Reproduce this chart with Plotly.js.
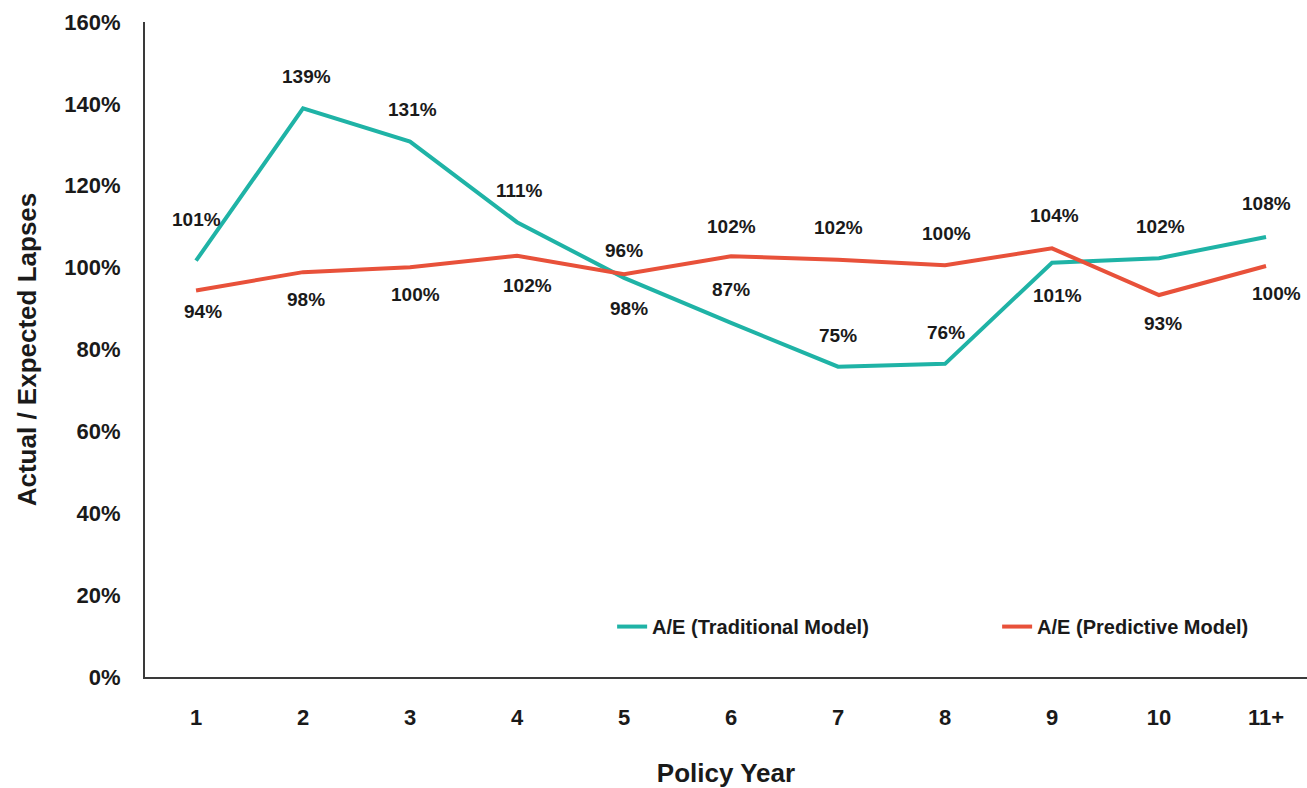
<!DOCTYPE html>
<html>
<head>
<meta charset="utf-8">
<script src="https://cdn.plot.ly/plotly-3.0.1.min.js"></script>
<style>
  html, body { margin: 0; padding: 0; background: #ffffff; }
  #chart { width: 1307px; height: 788px; }
</style>
</head>
<body>
<div id="chart"></div>
<script>
// ---- data ----
const policyYears = ["1", "2", "3", "4", "5", "6", "7", "8", "9", "10", "11+"];
const traditionalAE = [101.7, 138.9, 130.8, 111.1, 97.5, 86.5, 75.8, 76.5, 101.2, 102.3, 107.5];
const predictiveAE  = [94.4, 98.9, 100.1, 102.9, 98.4, 102.8, 101.9, 100.6, 104.7, 93.3, 100.4];
const traditionalLabels = ["101%", "139%", "131%", "111%", "96%", "87%", "75%", "76%", "101%", "102%", "108%"];
const predictiveLabels  = ["94%", "98%", "100%", "102%", "98%", "102%", "102%", "100%", "104%", "93%", "100%"];
const yTicks = [0, 20, 40, 60, 80, 100, 120, 140, 160];

// label placement (pixel offsets from each point)
const tradLabelDy = [41, 32, 32, 32, 27, 33, 31, 31, -33, 32, 33];
const tradLabelDx = [0, 3, 2, 2, 0, 0, 0, 1, 5, 1, 0];
const predLabelDy = [-21, -27, -27, -30, -34, 30, 32, 32, 33, -28, -28];
const predLabelDx = [7, 3, 5, 10, 5, 0, 0, 1, 2, 4, 10];

const TEAL = "#1fb3a6";
const RED = "#e8513a";
const TXT = "#1a1a1a";
const FONT = "Liberation Sans, Arial, sans-serif";

const traces = [
  {
    type: "scatter", mode: "lines", name: "A/E (Traditional Model)",
    x: policyYears, y: traditionalAE,
    line: { color: TEAL, width: 4 }, hoverinfo: "skip"
  },
  {
    type: "scatter", mode: "lines", name: "A/E (Predictive Model)",
    x: policyYears, y: predictiveAE,
    line: { color: RED, width: 4 }, hoverinfo: "skip"
  }
];

const annotations = [];
policyYears.forEach((c, i) => {
  // on a category axis, annotations are placed by category index
  annotations.push({
    x: i, y: traditionalAE[i], xref: "x", yref: "y",
    text: traditionalLabels[i], showarrow: false,
    xshift: tradLabelDx[i], yshift: tradLabelDy[i],
    font: { family: FONT, size: 19, color: TXT, weight: "bold" }
  });
  annotations.push({
    x: i, y: predictiveAE[i], xref: "x", yref: "y",
    text: predictiveLabels[i], showarrow: false,
    xshift: predLabelDx[i], yshift: predLabelDy[i],
    font: { family: FONT, size: 19, color: TXT, weight: "bold" }
  });
});

const layout = {
  width: 1307, height: 788,
  margin: { l: 145, r: 0, t: 22, b: 111, pad: 0, autoexpand: false },
  paper_bgcolor: "#ffffff", plot_bgcolor: "#ffffff",
  font: { family: FONT, color: TXT },
  showlegend: true,
  legend: {
    orientation: "h", x: 0.402, xanchor: "left", y: 0.077, yanchor: "middle",
    font: { family: FONT, size: 20, color: TXT, weight: "bold" },
    entrywidth: 340, entrywidthmode: "pixels",
    bgcolor: "rgba(0,0,0,0)"
  },
  xaxis: {
    type: "category",
    range: [-0.477, 10.383],
    showline: true, linecolor: "#3a3a3a", linewidth: 2,
    showgrid: false, zeroline: false, ticks: "",
    ticklabelstandoff: 20,
    tickfont: { family: FONT, size: 22, color: TXT, weight: "bold" },
    title: { text: "Policy Year", font: { family: FONT, size: 26, color: TXT, weight: "bold" }, standoff: 34 },
    fixedrange: true
  },
  yaxis: {
    range: [0, 160],
    tickvals: yTicks, ticktext: yTicks.map(v => v + "%"),
    showline: true, linecolor: "#3a3a3a", linewidth: 2,
    showgrid: false, zeroline: false, ticks: "",
    ticklabelstandoff: 18,
    tickfont: { family: FONT, size: 22, color: TXT, weight: "bold" },
    title: { text: "Actual / Expected Lapses", font: { family: FONT, size: 26, color: TXT, weight: "bold" }, standoff: 20 },
    fixedrange: true
  },
  annotations: annotations
};

Plotly.newPlot("chart", traces, layout, { displayModeBar: false, staticPlot: true });
</script>
</body>
</html>
